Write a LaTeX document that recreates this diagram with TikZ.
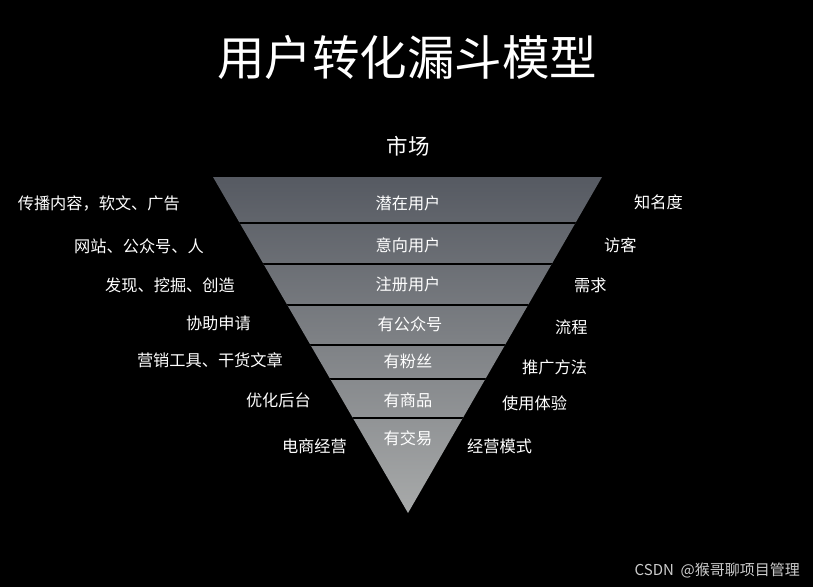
\documentclass[tikz,border=0pt]{standalone}
\usepackage{fontspec}
\setmainfont{Noto Sans CJK SC}
\definecolor{funneltop}{RGB}{86,90,98}
\definecolor{funnelbot}{RGB}{168,170,170}
\definecolor{wmgray}{RGB}{205,205,205}
\tikzset{
  lbl/.style={text=white, inner sep=0pt, font=\fontsize{16.2}{18}\selectfont},
  band/.style={lbl},
  lefttxt/.style={lbl, anchor=east},
  righttxt/.style={lbl, anchor=west},
  sep/.style={draw=black, line width=2pt}
}
\begin{document}
\begin{tikzpicture}[x=1pt,y=-1pt]
\fill[black] (0,0) rectangle (813,587);
\useasboundingbox (0,0) rectangle (813,587);
% funnel
\shade[top color=funneltop, bottom color=funnelbot] (213,177) -- (602,177) -- (408,513) -- cycle;
\begin{scope}
\clip (213,177) -- (602,177) -- (408,513) -- cycle;
\foreach \yy in {223,264,305,345,379,418} {\draw[sep] (200,\yy) -- (620,\yy);}
\end{scope}
% title
\node[text=white, inner sep=0pt, font=\fontsize{47.5}{52}\selectfont] (title) at (407,57) {用户转化漏斗模型};
\node[text=white, inner sep=0pt, font=\fontsize{21.5}{24}\selectfont] (market) at (408,146) {市场};
% band labels
\node[band] (b1) at (408,203) {潜在用户};
\node[band] (b2) at (408,245) {意向用户};
\node[band] (b3) at (408,284) {注册用户};
\node[band] (b4) at (410,324) {有公众号};
\node[band] (b5) at (408,361) {有粉丝};
\node[band] (b6) at (408,400) {有商品};
\node[band] (b7) at (408,438) {有交易};
% left labels
\node[lefttxt] (l1) at (180,203) {传播内容，软文、广告};
\node[lefttxt] (l2) at (204,246) {网站、公众号、人};
\node[lefttxt] (l3) at (235,285) {发现、挖掘、创造};
\node[lefttxt] (l4) at (251,323) {协助申请};
\node[lefttxt] (l5) at (283,360) {营销工具、干货文章};
\node[lefttxt] (l6) at (311,400) {优化后台};
\node[lefttxt] (l7) at (347,446) {电商经营};
% right labels
\node[righttxt] (r1) at (634,202) {知名度};
\node[righttxt] (r2) at (604,245) {访客};
\node[righttxt] (r3) at (574,285) {需求};
\node[righttxt] (r4) at (555,327) {流程};
\node[righttxt] (r5) at (522,367) {推广方法};
\node[righttxt] (r6) at (502,403) {使用体验};
\node[righttxt] (r7) at (467,446) {经营模式};
% watermark
\node[text=wmgray, inner sep=0pt, anchor=east, font=\fontsize{15}{16}\selectfont] (wm) at (800,570) {CSDN\ \ @猴哥聊项目管理};
\end{tikzpicture}
\end{document}
